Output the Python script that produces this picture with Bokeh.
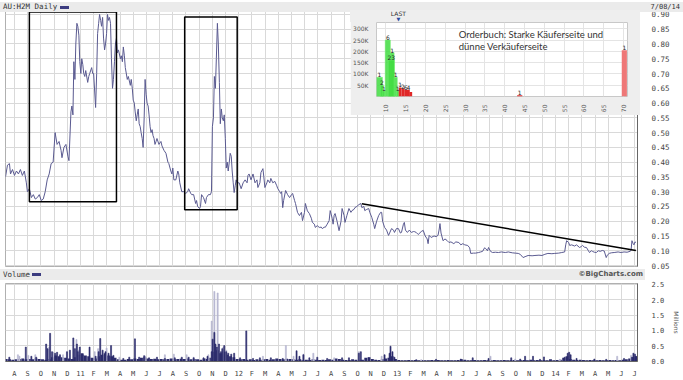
import numpy as np
from bokeh.plotting import figure
from bokeh.models import (Range1d, FixedTicker, NumeralTickFormatter, Label, GridBox, Grid, Div)
from bokeh.embed import file_html
from bokeh.resources import INLINE
from bokeh.core.properties import value

# ---------------- data ----------------
# x positions are months since 1 Aug 2010 (fractional)
price_month = [
    -0.68, -0.53, -0.38, -0.30, -0.15, 0.00, 0.15, 0.30, 0.45, 0.60,
    0.75, 0.90, 0.98, 1.13, 1.28, 1.43, 1.58, 1.73, 1.88, 2.03,
    2.18, 2.33, 2.48, 2.63, 2.78, 2.93, 3.08, 3.23, 3.38, 3.53,
    3.60, 3.75, 3.90, 4.05, 4.13, 4.28, 4.35, 4.43, 4.50, 4.58,
    4.65, 4.73, 4.80, 4.88, 4.95, 5.03, 5.10, 5.18, 5.25, 5.33,
    5.40, 5.55, 5.63, 5.70, 5.85, 5.93, 6.00, 6.15, 6.23, 6.30,
    6.38, 6.45, 6.53, 6.60, 6.68, 6.75, 6.83, 6.90, 6.98, 7.05,
    7.13, 7.20, 7.28, 7.35, 7.43, 7.50, 7.58, 7.65, 7.73, 7.80,
    7.88, 8.03, 8.10, 8.18, 8.25, 8.33, 8.40, 8.55, 8.63, 8.78,
    8.85, 8.93, 9.00, 9.08, 9.15, 9.23, 9.30, 9.38, 9.45, 9.53,
    9.60, 9.68, 9.75, 9.83, 9.90, 9.98, 10.05, 10.13, 10.20, 10.28,
    10.35, 10.43, 10.50, 10.58, 10.65, 10.73, 10.80, 10.95, 11.10, 11.18,
    11.33, 11.48, 11.63, 11.70, 11.85, 11.93, 12.00, 12.08, 12.23, 12.38,
    12.45, 12.53, 12.68, 12.83, 12.98, 13.13, 13.20, 13.35, 13.43, 13.58,
    13.73, 13.80, 13.88, 14.03, 14.10, 14.18, 14.33, 14.48, 14.55, 14.70,
    14.85, 14.93, 15.00, 15.08, 15.15, 15.23, 15.30, 15.38, 15.45, 15.53,
    15.60, 15.68, 15.75, 15.83, 15.90, 15.98, 16.05, 16.13, 16.20, 16.28,
    16.35, 16.43, 16.50, 16.58, 16.65, 16.73, 16.80, 16.88, 17.03, 17.18,
    17.33, 17.48, 17.63, 17.70, 17.78, 17.93, 18.08, 18.23, 18.38, 18.45,
    18.60, 18.68, 18.83, 18.90, 18.98, 19.13, 19.20, 19.35, 19.43, 19.58,
    19.73, 19.88, 19.95, 20.10, 20.18, 20.25, 20.33, 20.40, 20.55, 20.70,
    20.85, 21.00, 21.08, 21.23, 21.30, 21.45, 21.60, 21.75, 21.83, 21.98,
    22.05, 22.20, 22.35, 22.50, 22.58, 22.73, 22.80, 22.95, 23.10, 23.25,
    23.33, 23.48, 23.55, 23.70, 23.85, 23.93, 24.08, 24.15, 24.23, 24.30,
    24.45, 24.60, 24.75, 24.83, 24.98, 25.05, 25.20, 25.35, 25.50, 25.58,
    25.73, 25.80, 25.95, 26.10, 26.25, 26.33, 26.48, 26.55, 26.70, 26.85,
    26.93, 27.08, 27.23, 27.30, 27.45, 27.60, 27.75, 27.83, 27.90, 28.05,
    28.20, 28.35, 28.43, 28.58, 28.73, 28.80, 28.95, 29.10, 29.25, 29.33,
    29.48, 29.55, 29.63, 29.78, 29.93, 30.08, 30.23, 30.30, 30.45, 30.60,
    30.83, 30.98, 31.13, 31.28, 31.35, 31.43, 31.58, 31.80, 31.95, 32.10,
    32.18, 32.25, 32.33, 32.48, 32.63, 32.78, 32.93, 33.08, 33.30, 33.45,
    33.68, 33.83, 33.98, 34.13, 34.35, 34.50, 34.58, 34.80, 34.95, 35.18,
    35.33, 35.48, 35.63, 35.70, 35.85, 35.93, 36.08, 36.23, 36.45, 36.68,
    36.90, 37.20, 37.43, 37.73, 37.95, 38.18, 38.33, 38.55, 38.70, 38.93,
    39.23, 39.45, 39.75, 39.98, 40.20, 40.43, 40.73, 40.95, 41.25, 41.48,
    41.70, 41.78, 41.85, 42.00, 42.08, 42.23, 42.45, 42.60, 42.83, 42.98,
    43.05, 43.20, 43.35, 43.50, 43.58, 43.73, 43.80, 43.95, 44.10, 44.25,
    44.40, 44.55, 44.70, 44.85, 44.93, 45.08, 45.23, 45.45, 45.75, 45.98,
    46.20, 46.43, 46.65, 46.73, 46.80, 46.88, 46.95, 47.03, 47.10,
]
price_value = [
    0.35, 0.39, 0.395, 0.36, 0.375, 0.355, 0.37, 0.36, 0.375, 0.355,
    0.37, 0.33, 0.30, 0.31, 0.28, 0.29, 0.275, 0.28, 0.29, 0.27,
    0.275, 0.30, 0.34, 0.36, 0.395, 0.40, 0.50, 0.46, 0.47, 0.44,
    0.415, 0.45, 0.46, 0.42, 0.405, 0.57, 0.59, 0.56, 0.74, 0.68,
    0.80, 0.87, 0.86, 0.83, 0.74, 0.70, 0.75, 0.73, 0.70, 0.69,
    0.71, 0.67, 0.69, 0.70, 0.72, 0.70, 0.70, 0.585, 0.70, 0.835,
    0.87, 0.90, 0.88, 0.86, 0.89, 0.82, 0.78, 0.80, 0.835, 0.90,
    0.88, 0.89, 0.87, 0.75, 0.65, 0.68, 0.74, 0.80, 0.82, 0.77,
    0.78, 0.75, 0.76, 0.74, 0.79, 0.76, 0.72, 0.68, 0.69, 0.66,
    0.68, 0.65, 0.61, 0.60, 0.57, 0.54, 0.56, 0.58, 0.53, 0.52,
    0.50, 0.48, 0.45, 0.55, 0.68, 0.63, 0.60, 0.59, 0.56, 0.52,
    0.50, 0.51, 0.49, 0.48, 0.46, 0.47, 0.48, 0.46, 0.47, 0.455,
    0.44, 0.43, 0.40, 0.395, 0.37, 0.36, 0.38, 0.34, 0.34, 0.37,
    0.36, 0.33, 0.30, 0.30, 0.294, 0.30, 0.31, 0.295, 0.29, 0.29,
    0.26, 0.27, 0.25, 0.243, 0.25, 0.29, 0.28, 0.26, 0.28, 0.29,
    0.29, 0.30, 0.52, 0.55, 0.69, 0.65, 0.75, 0.87, 0.80, 0.67,
    0.53, 0.58, 0.55, 0.54, 0.56, 0.48, 0.38, 0.40, 0.37, 0.40,
    0.43, 0.42, 0.37, 0.33, 0.297, 0.32, 0.34, 0.33, 0.33, 0.31,
    0.33, 0.34, 0.33, 0.355, 0.36, 0.34, 0.36, 0.33, 0.34, 0.314,
    0.33, 0.365, 0.378, 0.35, 0.314, 0.33, 0.34, 0.33, 0.345, 0.33,
    0.335, 0.32, 0.311, 0.30, 0.294, 0.30, 0.246, 0.27, 0.304, 0.29,
    0.28, 0.29, 0.294, 0.27, 0.26, 0.23, 0.219, 0.23, 0.202, 0.23,
    0.26, 0.235, 0.226, 0.21, 0.196, 0.19, 0.179, 0.185, 0.179, 0.18,
    0.175, 0.18, 0.179, 0.19, 0.202, 0.236, 0.21, 0.19, 0.22, 0.226,
    0.20, 0.168, 0.20, 0.243, 0.22, 0.196, 0.22, 0.243, 0.23, 0.236,
    0.24, 0.246, 0.25, 0.256, 0.26, 0.246, 0.25, 0.236, 0.24, 0.243,
    0.23, 0.213, 0.19, 0.175, 0.20, 0.219, 0.23, 0.23, 0.20, 0.179,
    0.17, 0.152, 0.16, 0.175, 0.17, 0.162, 0.175, 0.175, 0.16, 0.162,
    0.19, 0.196, 0.17, 0.162, 0.17, 0.162, 0.165, 0.165, 0.162, 0.155,
    0.165, 0.169, 0.15, 0.14, 0.124, 0.152, 0.145, 0.15, 0.148, 0.152,
    0.17, 0.192, 0.16, 0.134, 0.14, 0.135, 0.128, 0.13, 0.124, 0.13,
    0.128, 0.12, 0.124, 0.12, 0.118, 0.11, 0.091, 0.092, 0.092, 0.094,
    0.096, 0.098, 0.11, 0.108, 0.10, 0.111, 0.098, 0.094, 0.095, 0.094,
    0.096, 0.094, 0.096, 0.093, 0.092, 0.091, 0.088, 0.077, 0.08, 0.084,
    0.083, 0.084, 0.085, 0.084, 0.088, 0.091, 0.09, 0.091, 0.092, 0.094,
    0.096, 0.12, 0.134, 0.128, 0.118, 0.12, 0.116, 0.12, 0.111, 0.115,
    0.118, 0.112, 0.111, 0.10, 0.094, 0.10, 0.098, 0.095, 0.094, 0.10,
    0.098, 0.101, 0.099, 0.077, 0.085, 0.091, 0.093, 0.094, 0.096, 0.094,
    0.096, 0.095, 0.098, 0.101, 0.134, 0.125, 0.12, 0.13, 0.128,
]
assert len(price_month) == len(price_value), (len(price_month), len(price_value))

price_ticks = [0.05, 0.10, 0.15, 0.20, 0.25, 0.30, 0.35, 0.40, 0.45,
               0.50, 0.55, 0.60, 0.65, 0.70, 0.75, 0.80, 0.85, 0.90]

# hand-drawn annotations on the chart (months / price)
box_left = [1.13, 12.90]
box_right = [7.73, 16.88]
box_bottom = [0.266, 0.239]
box_top = [0.908, 0.891]
trend_month = [26.33, 47.10]
trend_value = [0.259, 0.101]

# month ticks (0 = Aug 2010) and their labels
month_labels = ["A", "S", "O", "N", "D", "11", "F", "M", "A", "M", "J", "J",
                "A", "S", "O", "N", "D", "12", "F", "M", "A", "M", "J", "J",
                "A", "S", "O", "N", "D", "13", "F", "M", "A", "M", "J", "J",
                "A", "S", "O", "N", "D", "14", "F", "M", "A", "M", "J", "J"]

# volume (millions): weekly base level, starting with the week centred at -0.625
vol_week_first = -0.625
vol_week_base = [
    0.06, 0.05, 0.04, 0.05, 0.06, 0.08, 0.05, 0.06,
    0.05, 0.08, 0.06, 0.05, 0.04, 0.06, 0.12, 0.18,
    0.15, 0.12, 0.10, 0.08, 0.06, 0.12, 0.20, 0.25,
    0.18, 0.15, 0.10, 0.08, 0.15, 0.20, 0.25, 0.18,
    0.15, 0.10, 0.05, 0.04, 0.04, 0.06, 0.05, 0.08,
    0.06, 0.10, 0.12, 0.08, 0.06, 0.07, 0.05, 0.06,
    0.05, 0.06, 0.08, 0.05, 0.06, 0.07, 0.06, 0.08,
    0.05, 0.06, 0.05, 0.04, 0.08, 0.06, 0.10, 0.30,
    0.35, 0.25, 0.30, 0.20, 0.15, 0.12, 0.06, 0.05,
    0.06, 0.04, 0.05, 0.03, 0.05, 0.04, 0.05, 0.06,
    0.04, 0.05, 0.08, 0.06, 0.05, 0.07, 0.06, 0.05,
    0.04, 0.05, 0.03, 0.04, 0.03, 0.05, 0.04, 0.03,
    0.04, 0.03, 0.05, 0.04, 0.08, 0.06, 0.04, 0.03,
    0.03, 0.05, 0.04, 0.03, 0.04, 0.10, 0.12, 0.06,
    0.04, 0.03, 0.05, 0.08, 0.10, 0.15, 0.06, 0.03,
    0.02, 0.02, 0.03, 0.02, 0.03, 0.02, 0.03, 0.02,
    0.02, 0.03, 0.02, 0.03, 0.02, 0.02, 0.03, 0.02,
    0.02, 0.03, 0.05, 0.04, 0.02, 0.02, 0.03, 0.02,
    0.02, 0.03, 0.02, 0.02, 0.03, 0.02, 0.02, 0.03,
    0.02, 0.02, 0.03, 0.02, 0.02, 0.03, 0.02, 0.04,
    0.02, 0.03, 0.02, 0.03, 0.02, 0.05, 0.02, 0.03,
    0.04, 0.10, 0.15, 0.06, 0.04, 0.03, 0.04, 0.03,
    0.02, 0.03, 0.02, 0.02, 0.03, 0.02, 0.02, 0.03,
    0.02, 0.03, 0.02, 0.04, 0.05, 0.08, 0.12, 0.15,
]
# single-day volume spikes (dark = up days, light = down days)
vol_dark_month = [-0.39, 0.86, 1.28, 1.65, 2.40, 2.51, 2.70, 2.85, 3.08, 3.23,
                  3.45, 3.98, 4.20, 4.46, 4.58, 4.73, 4.80, 4.95, 5.18, 5.69,
                  6.15, 6.38, 6.50, 6.68, 6.90, 7.13, 7.32, 7.50, 8.25, 8.70,
                  9.13, 9.45, 9.83, 10.20, 10.80, 11.40, 12.15, 12.68, 13.20, 13.58,
                  14.33, 14.63, 14.95, 15.02, 15.15, 15.23, 15.34, 15.50, 15.65, 15.75,
                  15.90, 16.05, 16.20, 16.43, 16.65, 17.10, 17.57, 18.08, 18.60, 19.43,
                  20.33, 21.38, 21.60, 21.90, 22.35, 22.95, 23.70, 24.83, 25.35, 26.10,
                  26.25, 26.85, 28.05, 28.43, 28.50, 28.65, 28.80, 30.45, 31.95, 33.83,
                  34.73, 35.93, 37.65, 38.33, 38.70, 39.30, 39.83, 40.13, 41.70, 41.93,
                  42.04, 42.15, 42.60, 43.95, 44.85, 46.20, 46.80, 46.91, 47.03, 47.10]
vol_dark_value = [0.12, 0.45, 0.15, 0.12, 0.55, 0.40, 0.90, 0.30, 0.25, 0.28,
                  0.20, 0.30, 0.35, 0.75, 0.40, 0.55, 0.30, 0.45, 0.20, 0.45,
                  0.15, 0.30, 0.73, 0.35, 0.30, 0.25, 0.50, 0.18, 0.08, 0.12,
                  0.72, 0.12, 0.17, 0.10, 0.12, 0.08, 0.10, 0.12, 0.12, 0.10,
                  0.10, 0.15, 0.30, 0.71, 0.93, 0.55, 0.45, 0.55, 0.30, 0.40,
                  0.50, 0.30, 0.25, 0.22, 0.25, 0.10, 0.98, 0.08, 0.10, 0.10,
                  0.08, 0.33, 0.15, 0.20, 0.10, 0.12, 0.08, 0.10, 0.10, 0.25,
                  0.30, 0.10, 0.20, 0.25, 0.48, 0.30, 0.12, 0.04, 0.05, 0.06,
                  0.10, 0.08, 0.10, 0.06, 0.15, 0.15, 0.05, 0.13, 0.12, 0.25,
                  0.28, 0.20, 0.08, 0.06, 0.05, 0.08, 0.12, 0.25, 0.22, 0.15]
vol_light_month = [0.26, 0.38, 1.05, 1.58, 2.63, 2.93, 3.68, 4.70, 4.88, 6.08,
                   6.34, 6.98, 7.95, 9.90, 11.40, 12.08, 13.05, 13.58, 14.70, 14.95,
                   15.15, 15.40, 15.83, 16.05, 18.83, 20.57, 21.15, 21.90, 22.65, 24.23,
                   26.10, 27.83, 30.83, 36.08, 37.95, 41.33, 45.68, 46.73]
vol_light_value = [0.20, 0.15, 0.18, 0.20, 0.45, 0.28, 0.20, 0.70, 0.35, 0.30,
                   0.40, 0.42, 0.12, 0.15, 0.20, 0.22, 0.20, 0.12, 0.20, 1.30,
                   2.27, 2.22, 0.45, 0.35, 0.15, 0.50, 0.15, 0.22, 0.25, 0.10,
                   0.30, 0.15, 0.04, 0.15, 0.06, 0.05, 0.15, 0.18]
assert len(vol_dark_month) == len(vol_dark_value)
assert len(vol_light_month) == len(vol_light_value)
vol_ticks = [0.0, 0.5, 1.0, 1.5, 2.0, 2.5]

# order book inset (price in cents, volume in thousands of shares, number of orders)
bid_price = [8.4, 9.0, 9.5, 10.5, 11.6, 11.4, 12.5, 13.0]
bid_width = [1.5, 0.8, 0.8, 1.3, 1.0, 1.6, 0.8, 0.6]
bid_volume = [85, 50, 25, 250, 194, 162, 85, 25]
bid_orders = ["1", "2", "1", "6", "1", "23", "1", "1"]
ask_price = [13.6, 14.3, 15.0, 15.7, 16.3, 43.8, 70.2]
ask_width = [0.7, 0.7, 0.7, 0.7, 0.7, 1.3, 1.3]
ask_volume = [40, 35, 30, 30, 20, 5, 205]
ask_orders = ["1", "2", "6", "4", "", "1", "1"]
ask_color = ["#e02828", "#e02828", "#e02828", "#e02828", "#e02828", "#e02828", "#ee7777"]
ob_xticks = [10, 15, 20, 25, 30, 35, 40, 45, 50, 55, 60, 65, 70]
ob_yticks = [50, 100, 150, 200, 250, 300]
last_price = 13.3

# ---------------- styling ----------------
FONT = "DejaVu Sans"
MONO = "DejaVu Sans Mono"
GRID = "#d9d9d9"
BAND = "#ebebeb"
LINE = "#5a5a90"
DARK = "#2c2c6c"
LIGHT = "#b6b6d0"
SWATCH = "#3c3c80"

x_range = Range1d(-0.68, 47.22)
month_ticks = list(range(len(month_labels)))


def band_div(width, height, bg, parts):
    """Thin header strip; parts are (css, text) spans placed inside it."""
    spans = "".join(
        f'<span style="position:absolute;white-space:nowrap;{css}">{txt}</span>' for css, txt in parts)
    html = (f'<div style="position:relative;width:{width}px;height:{height}px;'
            f'background:{bg};overflow:hidden;margin:0;padding:0;">{spans}</div>')
    return Div(text=html, width=width, height=height, margin=0)


TXT = "top:0;line-height:10px;font-size:7.5px;color:#333;font-family:'DejaVu Sans Mono';"
header = band_div(683, 10, BAND, [
    ("left:3px;" + TXT, "AU:H2M Daily"),
    (f"left:60px;top:4px;width:9px;height:3px;background:{SWATCH};", ""),
    ("right:3px;" + TXT + "font-size:7px;", "7/08/14"),
])
vol_band = band_div(645, 11, BAND, [
    ("left:3px;" + TXT.replace("line-height:10px", "line-height:11px"), "Volume"),
    (f"left:32px;top:4px;width:9px;height:3px;background:{SWATCH};", ""),
    ("right:2px;top:0;line-height:11px;font-size:7px;font-weight:bold;color:#555;"
     "font-family:'DejaVu Sans';", "\u00a9BigCharts.com"),
])

# ---------------- price panel ----------------
p = figure(width=683, height=272, x_range=x_range, y_range=Range1d(0.0467, 0.910),
           output_backend="svg", toolbar_location=None, y_axis_location="right",
           x_axis_location=None, title=None,
           min_border_left=5, min_border_right=40, min_border_top=11, min_border_bottom=6)
p.outline_line_color = "#b0b0b0"
p.background_fill_color = "white"
p.border_fill_color = "white"
p.add_layout(Grid(dimension=0, ticker=FixedTicker(ticks=month_ticks), grid_line_color=GRID))
p.ygrid.ticker = FixedTicker(ticks=price_ticks)
p.ygrid.grid_line_color = GRID
ax = p.yaxis[0]
ax.ticker = FixedTicker(ticks=price_ticks)
ax.formatter = NumeralTickFormatter(format="0.00")
ax.major_label_text_font = MONO
ax.major_label_text_font_size = "7.5px"
ax.major_label_text_color = "#444444"
ax.major_tick_line_color = None
ax.minor_tick_line_color = None
ax.axis_line_color = "#666666"
ax.major_label_standoff = 8

p.line(price_month, price_value, line_color=LINE, line_width=1)
p.quad(left=box_left, right=box_right, bottom=box_bottom, top=box_top,
       fill_alpha=0, line_color="black", line_width=1.5)
p.line(trend_month, trend_value, line_color="black", line_width=1.5)

# ---------------- order book inset ----------------
OB_W, OB_L, OB_R = 290, 26, 13
ob_range = Range1d(7.65, 71.0)
pi = figure(width=OB_W, height=105, x_range=ob_range, y_range=Range1d(0, 328),
            output_backend="svg", toolbar_location=None, title=None,
            min_border_left=OB_L, min_border_right=OB_R, min_border_top=12, min_border_bottom=15)
pi.border_fill_color = "#eeeeee"
pi.background_fill_color = "white"
pi.outline_line_color = "#c8c8c8"
pi.xgrid.grid_line_color = "#e4e4e4"
pi.ygrid.grid_line_color = "#e4e4e4"
pi.xaxis.ticker = FixedTicker(ticks=ob_xticks)
pi.yaxis.ticker = FixedTicker(ticks=ob_yticks)
pi.yaxis.major_label_overrides = {t: f"{t}K" for t in ob_yticks}
for a in (pi.xaxis[0], pi.yaxis[0]):
    a.major_label_text_font = FONT
    a.major_label_text_font_size = "6px"
    a.major_label_text_color = "#555555"
    a.major_tick_line_color = None
    a.minor_tick_line_color = None
    a.axis_line_color = None
    a.major_label_standoff = 2
pi.xaxis.major_label_orientation = np.pi / 2

pi.vbar(x=bid_price, width=bid_width, top=bid_volume, bottom=0,
        fill_color="#3fdc3f", fill_alpha=0.85, line_color="#77ee77", line_width=0.5)
pi.vbar(x=ask_price, width=ask_width, top=ask_volume, bottom=0,
        fill_color=ask_color, line_color=None)
pi.text(x=bid_price, y=bid_volume, text=bid_orders, text_font=value(FONT),
        text_font_size="6px", text_align="center", text_baseline="bottom", text_color="#222222")
pi.text(x=ask_price, y=ask_volume, text=ask_orders, text_font=value(FONT),
        text_font_size="6px", text_align="center", text_baseline="bottom", text_color="#222222")
pi.add_layout(Label(x=28.4, y=273, text="Orderbuch: Starke K\u00e4uferseite und",
                    text_font="Lato", text_font_size="9.5px", text_color="#333333",
                    text_baseline="middle"))
pi.add_layout(Label(x=28.4, y=222, text="d\u00fcnne Verk\u00e4uferseite",
                    text_font="Lato", text_font_size="9.5px", text_color="#333333",
                    text_baseline="middle"))

# "LAST" marker above the inset plot, placed with the inset's own x scale
frame_w = OB_W - OB_L - OB_R
last_px = OB_L + (last_price - ob_range.start) / (ob_range.end - ob_range.start) * frame_w
last_strip = band_div(OB_W, 12, "#eeeeee", [
    (f"left:{last_px - 12:.1f}px;width:24px;text-align:center;top:0;line-height:8px;"
     "font-size:6px;color:#333;font-family:'DejaVu Sans';", "LAST"),
    (f"left:{last_px - 6:.1f}px;width:12px;text-align:center;top:6px;line-height:6px;"
     "font-size:5px;color:#2a4aa0;font-family:'DejaVu Sans';", "\u25bc"),
])

# ---------------- volume panel ----------------
pv = figure(width=683, height=112, x_range=x_range, y_range=Range1d(-0.02, 2.53),
            output_backend="svg", toolbar_location=None, y_axis_location="right", title=None,
            min_border_left=5, min_border_right=40, min_border_top=15, min_border_bottom=10)
pv.border_fill_alpha = 0
pv.background_fill_color = "white"
pv.outline_line_color = "#b0b0b0"
pv.xgrid.grid_line_color = GRID
pv.ygrid.grid_line_color = GRID
xa = pv.xaxis[0]
xa.ticker = FixedTicker(ticks=month_ticks)
xa.major_label_overrides = {i: lab for i, lab in enumerate(month_labels)}
ya = pv.yaxis[0]
ya.ticker = FixedTicker(ticks=vol_ticks)
ya.formatter = NumeralTickFormatter(format="0.0")
ya.axis_label = "Millions"
ya.axis_label_text_font = FONT
ya.axis_label_text_font_size = "6px"
ya.axis_label_text_font_style = "normal"
ya.axis_label_text_color = "#555555"
ya.axis_label_standoff = 6
for a in (xa, ya):
    a.major_label_text_font = MONO
    a.major_label_text_font_size = "7px"
    a.major_label_text_color = "#444444"
    a.major_tick_line_color = None
    a.minor_tick_line_color = None
    a.axis_line_color = "#666666"
ya.major_label_standoff = 8
xa.major_label_standoff = 2

week_x = [vol_week_first + 0.25 * i for i in range(len(vol_week_base))]
pv.vbar(x=week_x, width=0.22, top=vol_week_base, bottom=0, fill_color=DARK, line_color=None)
pv.vbar(x=vol_light_month, width=0.08, top=vol_light_value, bottom=0,
        fill_color=LIGHT, line_color=LIGHT, line_width=0.6)
pv.vbar(x=vol_dark_month, width=0.08, top=vol_dark_value, bottom=0,
        fill_color=DARK, line_color=DARK, line_width=0.6)

# rows (px):   0-10 | 10-22 | 22-115 | 115-268 | 268-272 | 272-279 | 279-380
# cols (px):   0-350 | 350-640 | 640-645 | 645-683
layout = GridBox(children=[(p, 0, 0, 5, 4), (header, 0, 0, 1, 4),
                           (pi, 1, 1, 2, 1), (last_strip, 1, 1, 1, 1),
                           (pv, 4, 0, 3, 4), (vol_band, 4, 0, 2, 3)],
                 rows=["10px", "12px", "93px", "153px", "4px", "7px", "101px"],
                 cols=["350px", "290px", "5px", "38px"], spacing=0)

with open("out.html", "w") as f:
    f.write(file_html(layout, INLINE))
